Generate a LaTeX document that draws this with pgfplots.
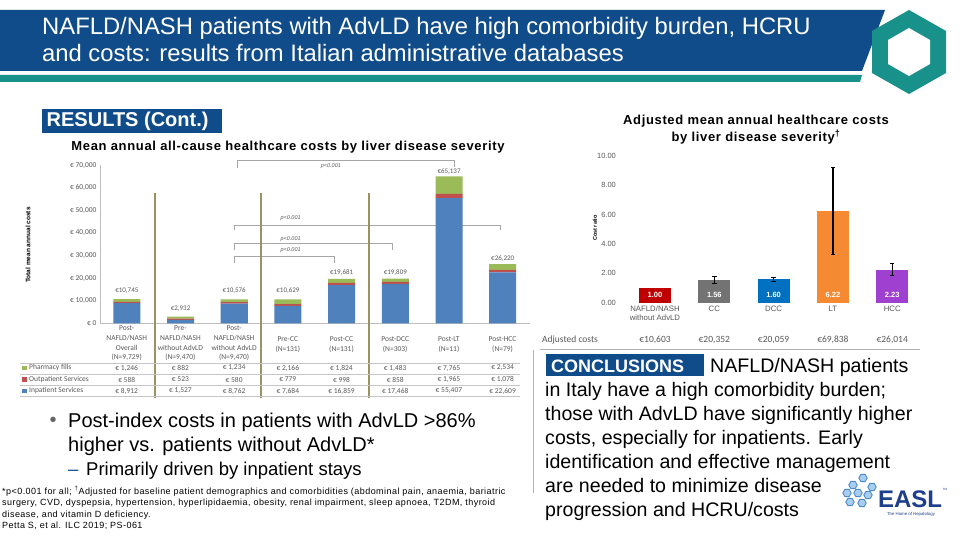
\documentclass[border=0pt]{standalone}
\usepackage{pgfplots}
\pgfplotsset{compat=1.18}
\usepackage{fontspec}
\setmainfont{Liberation Sans}
\newfontfamily\carl{Carlito}
\newfontfamily\spfont[LetterSpace=5]{Liberation Sans}
\newfontfamily\fnfont[LetterSpace=5]{Liberation Sans}
\definecolor{hdrblue}{HTML}{104C8A}
\definecolor{tealc}{HTML}{17918A}
\definecolor{inpat}{HTML}{4F81BD}
\definecolor{outpat}{HTML}{C0504D}
\definecolor{pharm}{HTML}{9BBB59}
\definecolor{olive}{HTML}{9A9262}
\definecolor{txtgray}{HTML}{595959}
\definecolor{easlblue}{HTML}{1E3F8C}
\definecolor{hexblue}{HTML}{A8CDEE}
\definecolor{hexline}{HTML}{4A8CCB}
\definecolor{barred}{HTML}{C00000}
\definecolor{bargray}{HTML}{737373}
\definecolor{barblue}{HTML}{0070C0}
\definecolor{barorange}{HTML}{F58A33}
\definecolor{barpurple}{HTML}{A040D0}
\begin{document}
\begin{tikzpicture}[
  totlab/.style={font=\carl\fontsize{7}{8}\selectfont, text=txtgray, inner sep=0},
  pval/.style={font=\itshape\fontsize{5.5}{6}\selectfont, text=txtgray, inner sep=0},
  brk/.style={draw=gray!70, line width=0.6pt},
  vlab/.style={font=\bfseries\fontsize{7.5}{8}\selectfont, text=white, inner sep=0}]
\begin{scope}[x=1pt,y=1pt]
\useasboundingbox (0,0) rectangle (960,540);
\fill[white] (0,0) rectangle (960,540);
% ---------- header
\fill[hdrblue] (0,530) -- (885,530) -- (862,469) -- (0,469) -- cycle;
\fill[tealc] (0,465) -- (862,465) -- (860,458) -- (0,458) -- cycle;
\fill[tealc] (909,530) -- (946,509) -- (946,467) -- (909,446) -- (872,467) -- (872,509) -- cycle;
\fill[white] (909,512) -- (930,500) -- (930,476) -- (909,464) -- (888,476) -- (888,500) -- cycle;
\node[anchor=base west, text=white, font=\fontsize{23.8}{26}\selectfont, inner sep=0] at (42,505) {NAFLD/NASH patients with AdvLD have high comorbidity burden, HCRU};
\node[anchor=base west, text=white, font=\fontsize{23.8}{26}\selectfont, inner sep=0] at (42,478.5) {and costs: results from Italian administrative databases};
% ---------- results box
\fill[hdrblue] (41.7,431) rectangle (221.7,406.7);
\node[anchor=west, text=white, font=\bfseries\fontsize{20}{22}\selectfont, inner sep=0] at (46.5,419) {RESULTS (Cont.)};
\node[font=\spfont\bfseries\fontsize{13}{14}\selectfont, inner sep=0] at (288,393.3) {Mean annual all-cause healthcare costs by liver disease severity};
\end{scope}
% ---------- left stacked bar chart
\begin{axis}[
  at={(100pt,216.7pt)}, anchor=south west,
  scale only axis, width=429.6pt, height=158pt,
  xmin=-0.5, xmax=7.5, ymin=0, ymax=70000,
  ybar stacked, bar width=27pt,
  axis x line*=bottom, axis y line*=left,
  axis line style={draw=gray!50, line width=0.5pt},
  xtick=\empty,
  scaled y ticks=false,
  ytick={0,10000,20000,30000,40000,50000,60000,70000},
  yticklabels={{€ 0},{€ 10,000},{€ 20,000},{€ 30,000},{€ 40,000},{€ 50,000},{€ 60,000},{€ 70,000}},
  yticklabel style={font=\carl\fontsize{7.5}{8}\selectfont, text=txtgray},
  major tick length=0pt,
  clip=false,
]
\addplot[fill=inpat, draw=none] coordinates {(0,8912) (1,1527) (2,8762) (3,7684) (4,16859) (5,17468) (6,55407) (7,22609)};
\addplot[fill=outpat, draw=none] coordinates {(0,588) (1,523) (2,580) (3,779) (4,998) (5,858) (6,1965) (7,1078)};
\addplot[fill=pharm, draw=none] coordinates {(0,1246) (1,882) (2,1234) (3,2166) (4,1824) (5,1483) (6,7765) (7,2534)};
\node[totlab] at (axis cs:0,14310) {€10,745};
\node[totlab] at (axis cs:1,6645) {€2,932};
\node[totlab] at (axis cs:2,14310) {€10,576};
\node[totlab] at (axis cs:3,14310) {€10,629};
\node[totlab] at (axis cs:4,22595) {€19,681};
\node[totlab] at (axis cs:5,22595) {€19,809};
\node[totlab] at (axis cs:6,67165) {€65,137};
\node[totlab] at (axis cs:7,28490) {€26,220};
\draw[brk] (axis cs:2.05,68800) -- (axis cs:2.05,72350) -- (axis cs:6.1,72350) -- (axis cs:6.1,69400);
\draw[brk] (axis cs:2,41300) -- (axis cs:2,43550) -- (axis cs:6.95,43550) -- (axis cs:6.95,41300);
\draw[brk] (axis cs:2,32500) -- (axis cs:2,35440) -- (axis cs:4.95,35440) -- (axis cs:4.95,32470);
\draw[brk] (axis cs:2,26850) -- (axis cs:2,29500) -- (axis cs:3.86,29500) -- (axis cs:3.86,26850);
\node[pval] at (axis cs:3.8,69700) {p<0.001};
\node[pval] at (axis cs:3.05,46650) {p<0.001};
\node[pval] at (axis cs:3.05,37350) {p<0.001};
\node[pval] at (axis cs:3.05,32470) {p<0.001};
\end{axis}
% ---------- right chart
\begin{axis}[
  at={(619.4pt,237.3pt)}, anchor=south west,
  scale only axis, width=308.4pt, height=146.7pt,
  xmin=-0.6, xmax=4.6, ymin=0, ymax=10,
  ybar, bar width=32pt, bar shift=0pt,
  axis x line*=bottom, axis y line*=left,
  axis line style={draw=none},
  major tick length=0pt,
  ytick={0,2,4,6,8,10},
  yticklabel style={font=\fontsize{7.5}{8}\selectfont, text=txtgray, /pgf/number format/.cd, fixed, fixed zerofill, precision=2, assume math mode=true},
  xtick={0,1,2,3,4},
  xticklabels={{NAFLD/NASH\\without AdvLD},CC,DCC,LT,HCC},
  xticklabel style={font=\fontsize{7.8}{8.2}\selectfont, text=txtgray, align=center},
  clip=false,
  error bars/error bar style={black, line width=1.3pt},
  error bars/error mark options={black, line width=1pt, mark size=2.2pt, rotate=90},
]
\addplot[fill=barred, draw=none] coordinates {(0,1.00)};
\addplot[fill=bargray, draw=none, error bars/.cd, y dir=both, y explicit] coordinates {(1,1.56) += (0,0.21) -= (0,0.22)};
\addplot[fill=barblue, draw=none, error bars/.cd, y dir=both, y explicit] coordinates {(2,1.60) += (0,0.10) -= (0,0.15)};
\addplot[fill=barorange, draw=none, error bars/.cd, y dir=both, y explicit] coordinates {(3,6.22) += (0,3.00) -= (0,2.92)};
\addplot[fill=barpurple, draw=none, error bars/.cd, y dir=both, y explicit] coordinates {(4,2.23) += (0,0.41) -= (0,0.41)};
\node[vlab] at (axis cs:0,0.52) {1.00};
\node[vlab] at (axis cs:1,0.52) {1.56};
\node[vlab] at (axis cs:2,0.52) {1.60};
\node[vlab] at (axis cs:3,0.52) {6.22};
\node[vlab] at (axis cs:4,0.52) {2.23};
\end{axis}
\begin{scope}[x=1pt,y=1pt]
\node[rotate=90, font=\bfseries\fontsize{6.5}{7}\selectfont] at (28,295) {Total mean annual costs};
% separators
\foreach \sx in {155,261,369} \draw[olive, line width=1.4pt] (\sx,347) -- (\sx,142);
% table lines
\foreach \ty in {177,165.7,154.5,143.5} \draw[gray!45, line width=0.5pt] (20,\ty) -- (520,\ty);
% table headers
\begin{scope}[every node/.style={font=\carl\fontsize{7.5}{9.8}\selectfont, text=txtgray, align=center, inner sep=0}]
\node at (126.7,196.7) {Post-\\NAFLD/NASH\\Overall\\(N=9,729)};
\node at (180.4,196.7) {Pre-\\NAFLD/NASH\\without AdvLD\\(N=9,470)};
\node at (234.1,196.7) {Post-\\NAFLD/NASH\\without AdvLD\\(N=9,470)};
\node at (287.8,195.5) {Pre-CC\\(N=131)};
\node at (341.5,195.5) {Post-CC\\(N=131)};
\node at (395.2,195.5) {Post-DCC\\(N=303)};
\node at (448.9,195.5) {Post-LT\\(N=11)};
\node at (502.6,195.5) {Post-HCC\\(N=79)};
\end{scope}
% table rows
\fill[pharm] (22,169.8) rectangle ++(4.5,4.5);
\fill[outpat] (22,158.3) rectangle ++(4.5,4.5);
\fill[inpat] (22,146.8) rectangle ++(4.5,4.5);
\begin{scope}[every node/.style={font=\carl\fontsize{7.5}{9}\selectfont, text=txtgray, inner sep=0}]
\node[anchor=west] at (29,172) {Pharmacy fills};
\node[anchor=west] at (29,160.5) {Outpatient Services};
\node[anchor=west] at (29,149) {Inpatient Services};
\foreach \cx/\va/\vb/\vc in {126.7/{€ 1,246}/{€ 588}/{€ 8,912}, 180.4/{€ 882}/{€ 523}/{€ 1,527}, 234.1/{€ 1,234}/{€ 580}/{€ 8,762}, 287.8/{€ 2,166}/{€ 779}/{€ 7,684}, 341.5/{€ 1,824}/{€ 998}/{€ 16,859}, 395.2/{€ 1,483}/{€ 858}/{€ 17,468}, 448.9/{€ 7,765}/{€ 1,965}/{€ 55,407}, 502.6/{€ 2,534}/{€ 1,078}/{€ 22,609}} {
  \node at (\cx,172) {\va};
  \node at (\cx,160.5) {\vb};
  \node at (\cx,149) {\vc};
}
\end{scope}
% ---------- bullets
\node[font=\fontsize{20}{22}\selectfont, text=gray!80!black, inner sep=0] at (53,118) {•};
\node[anchor=base west, font=\fontsize{20}{22}\selectfont, inner sep=0] at (68,112.5) {Post-index costs in patients with AdvLD >86\%};
\node[anchor=base west, font=\fontsize{20}{22}\selectfont, inner sep=0] at (68,88) {higher vs. patients without AdvLD*};
\node[anchor=base west, font=\fontsize{18.5}{20}\selectfont, inner sep=0] at (68,64) {\textcolor{hdrblue}{–}};
\node[anchor=base west, font=\fontsize{18.5}{20}\selectfont, inner sep=0] at (86,64) {Primarily driven by inpatient stays};
\begin{scope}[every node/.style={anchor=base west, font=\fnfont\fontsize{9}{10}\selectfont, inner sep=0}]
\node at (2,45.5) {*p<0.001 for all; \textsuperscript{†}Adjusted for baseline patient demographics and comorbidities (abdominal pain, anaemia, bariatric};
\node at (2,34) {surgery, CVD, dyspepsia, hypertension, hyperlipidaemia, obesity, renal impairment, sleep apnoea, T2DM, thyroid};
\node at (2,22.5) {disease, and vitamin D deficiency.};
\node at (2,11) {Petta S, et al. ILC 2019; PS-061};
\end{scope}
% ---------- right chart texts
\node[font=\spfont\bfseries\fontsize{13}{16.5}\selectfont, align=center, inner sep=0] at (756,410.5) {Adjusted mean annual healthcare costs\\by liver disease severity\textsuperscript{†}};
\node[rotate=90, font=\bfseries\fontsize{5.5}{6}\selectfont] at (595,312) {Cost ratio};
\begin{scope}[every node/.style={font=\carl\fontsize{9.5}{10}\selectfont, text=txtgray, inner sep=0}]
\node[anchor=west] at (542,200) {Adjusted costs};
\node at (655,200) {€10,603};
\node at (714.3,200) {€20,352};
\node at (773.6,200) {€20,059};
\node at (832.9,200) {€69,838};
\node at (892.2,200) {€26,014};
\end{scope}
\draw[gray!60, line width=0.6pt] (540,191) -- (920,191);
\draw[gray!60, line width=0.8pt] (533,190) -- (533,47);
% ---------- conclusions
\fill[hdrblue] (546,186) rectangle (704,164);
\node[anchor=base west, text=white, font=\bfseries\fontsize{18}{19}\selectfont, inner sep=0] at (551,167.5) {CONCLUSIONS};
\begin{scope}[every node/.style={anchor=base west, font=\fontsize{19.6}{21}\selectfont, inner sep=0}]
\node at (710,167) {NAFLD/NASH patients};
\node at (545,143) {in Italy have a high comorbidity burden;};
\node at (545,119) {those with AdvLD have significantly higher};
\node at (545,95) {costs, especially for inpatients. Early};
\node at (545,71) {identification and effective management};
\node at (545,47) {are needed to minimize disease};
\node at (545,23) {progression and HCRU/costs};
\end{scope}
% ---------- EASL logo
\foreach \hx/\hy in {863/62, 853/55, 872/53, 847/47, 858/47, 868/45, 850/38, 862/37}
  \draw[hexline, fill=hexblue, line width=0.9pt] (\hx,\hy) +(0:4.2) -- +(60:4.2) -- +(120:4.2) -- +(180:4.2) -- +(240:4.2) -- +(300:4.2) -- cycle;
\node[anchor=base, font=\bfseries\fontsize{24}{25}\selectfont, text=easlblue, inner sep=0] at (910,32) {EASL};
\node[font=\fontsize{3}{3}\selectfont, text=easlblue, inner sep=0] at (945,51) {TM};
\node[font=\fontsize{4.3}{4.5}\selectfont, text=easlblue, inner sep=0] at (911,25.5) {The Home of Hepatology};
\end{scope}
\end{tikzpicture}
\end{document}
